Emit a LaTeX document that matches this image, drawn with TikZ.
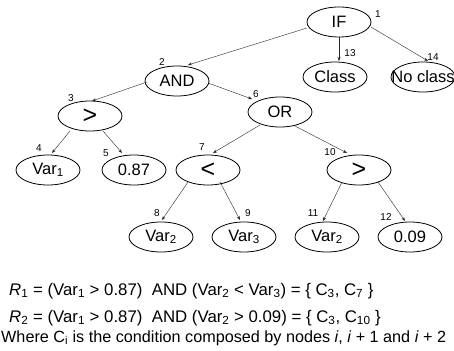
\documentclass[tikz,border=0pt]{standalone}
\usepackage{fontspec}
\setmainfont{Liberation Sans}
\usetikzlibrary{shapes.geometric,arrows.meta}
\begin{document}
\begin{tikzpicture}[x=1pt,y=-1pt,
  tn/.style={ellipse,draw,line width=0.8pt,minimum width=64pt,minimum height=30pt,inner sep=0pt,font=\fontsize{16.5}{19}\selectfont},
  op/.style={tn,font=\fontsize{25}{25}\selectfont},
  num/.style={inner sep=0pt,font=\fontsize{10}{12}\selectfont},
  edge/.style={line width=0.4pt,draw=black!85,-{Stealth[length=4pt,width=3pt]}},
  txt/.style={inner sep=0pt,anchor=base west,font=\fontsize{16.8}{19}\selectfont}]
\useasboundingbox (0,0) rectangle (454,350);
% tree nodes
\node[tn] (IF) at (339,22) {IF};
\node[tn] (AND) at (177,81) {AND};
\node[tn] (CL) at (335,77) {Class};
\node[tn] (NC) at (423,77) {\makebox[0pt]{No class}};
\node[op] (GT1) at (90,116) {\raisebox{-1pt}{>}};
\node[tn] (OR) at (280,112) {OR};
\node[tn] (V1) at (48,170) {Var\textsubscript{1}};
\node[tn] (N087) at (134,170) {0.87};
\node[op] (LT) at (208,170) {\raisebox{-1pt}{<}};
\node[op] (GT2) at (359,170) {\raisebox{-1pt}{>}};
\node[tn] (V2a) at (161,237) {Var\textsubscript{2}};
\node[tn] (V3) at (244,237) {Var\textsubscript{3}};
\node[tn] (V2b) at (327,237) {Var\textsubscript{2}};
\node[tn] (N009) at (410,237) {0.09};
% number labels
\node[num] (l1) at (378,14) {1};
\node[num] (l2) at (162,62) {2};
\node[num] (l3) at (71,98) {3};
\node[num] (l4) at (39,148) {4};
\node[num] (l5) at (106,153) {5};
\node[num] (l6) at (256,94) {6};
\node[num] (l7) at (202,147) {7};
\node[num] (l8) at (157,213) {8};
\node[num] (l9) at (248,213) {9};
\node[num] (l10) at (330,152) {10};
\node[num] (l11) at (313,213) {11};
\node[num] (l12) at (386,217) {12};
\node[num] (l13) at (350,53) {13};
\node[num] (l14) at (433,57) {14};
% connectors
\draw[edge] ([shift={(-32,6)}]IF.center) -- ([shift={(11,-16)}]AND.center);
\draw[edge] ([shift={(0,15)}]IF.center) -- ([shift={(4,-16)}]CL.center);
\draw[edge] ([shift={(32,5)}]IF.center) -- ([shift={(5,-16)}]NC.center);
\draw[edge] ([shift={(-30,1)}]AND.center) -- ([shift={(2,-15)}]GT1.center);
\draw[edge] ([shift={(31,2)}]AND.center) -- ([shift={(-28,-13)}]OR.center);
\draw[edge] ([shift={(-20,15)}]GT1.center) -- ([shift={(4,-17)}]V1.center);
\draw[edge] ([shift={(13,15)}]GT1.center) -- ([shift={(-12,-17)}]N087.center);
\draw[edge] ([shift={(-20,13)}]OR.center) -- ([shift={(5,-17)}]LT.center);
\draw[edge] ([shift={(15,14)}]OR.center) -- ([shift={(-12,-17)}]GT2.center);
\draw[edge] ([shift={(-20,12)}]LT.center) -- ([shift={(1,-17)}]V2a.center);
\draw[edge] ([shift={(12,12)}]LT.center) -- ([shift={(-4,-17)}]V3.center);
\draw[edge] ([shift={(-17,12)}]GT2.center) -- ([shift={(-4,-16)}]V2b.center);
\draw[edge] ([shift={(19,12)}]GT2.center) -- ([shift={(-5,-16)}]N009.center);
% rules text
\node[txt] (r1) at (9,295) {\textit{R}\textsubscript{1} = (Var\textsubscript{1} > 0.87)\ \ AND (Var\textsubscript{2} < Var\textsubscript{3}) = \{ C\textsubscript{3}, C\textsubscript{7} \}};
\node[txt] (r2) at (9,322) {\textit{R}\textsubscript{2} = (Var\textsubscript{1} > 0.87)\ \ AND (Var\textsubscript{2} > 0.09) = \{ C\textsubscript{3}, C\textsubscript{10} \}};
\node[txt,font=\fontsize{16.2}{19}\selectfont] (wh) at (1,342) {Where C\textsubscript{i} is the condition composed by nodes \textit{i}, \textit{i} + 1 and \textit{i} + 2};
\end{tikzpicture}
\end{document}
